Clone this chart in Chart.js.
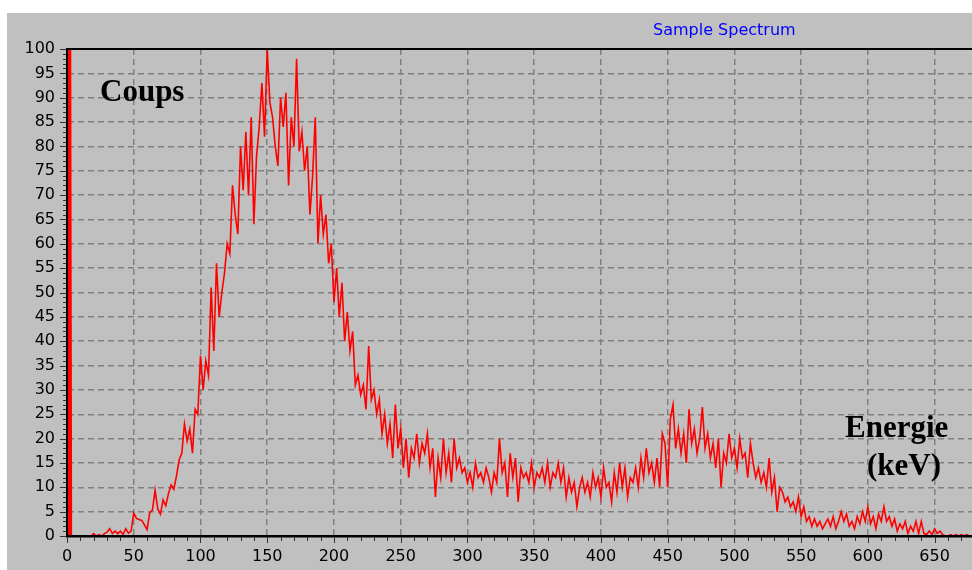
<!DOCTYPE html>
<html>
<head>
<meta charset="utf-8">
<script src="https://cdn.jsdelivr.net/npm/chart.js@4/dist/chart.umd.min.js"></script>
<style>
  html, body { margin: 0; padding: 0; background: #fff; }
  #wrap { position: absolute; left: 7px; top: 13px; width: 965px; height: 557px; background: #c0c0c0; }
</style>
</head>
<body>
<div id="wrap"><canvas id="spectrum"></canvas></div>
<script>
// channel width of the spectrum (keV per bin)
const BIN_KEV = 2;

// counts per 2 keV bin, starting at 0 keV (first bin overflows the scale)
const counts = [
  300, 0, 0, 0, 0, 0, 0, 0, 0, 0,
  0.5, 0, 0.3, 0, 0.5, 0.8, 1.5, 0.5, 1, 0.5,
  1, 0.3, 1.5, 0.6, 1, 4.7, 3.6, 3.4, 3.2, 2.3,
  1.3, 4.8, 5.3, 9.4, 5.5, 4.5, 7.4, 6.2, 8.7, 10.5,
  9.6, 12.3, 15.6, 17, 23, 19.5, 22, 17, 26, 25,
  37, 30, 36, 33, 51, 38, 56, 45, 50, 54,
  60, 58, 72, 66, 62, 80, 71, 83, 70, 86,
  64, 78, 84, 93, 82, 100, 89, 86, 80, 76,
  90, 84, 91, 72, 86, 80, 98, 79, 83, 75,
  80, 66, 74, 86, 60, 70, 62, 66, 56, 60,
  48, 55, 45, 52, 40, 46, 38, 42, 31, 33,
  29, 31, 26, 39, 28, 30, 25, 28, 21, 25,
  19, 23, 16, 27, 18, 22, 14, 20, 12, 18,
  16, 21, 15, 19, 17, 21, 14, 18, 8, 16,
  12, 20, 13, 17, 11, 20, 14, 16, 13, 14,
  11, 13, 10, 15, 12, 13, 11, 14, 12, 9,
  13, 11, 20, 13, 15, 8, 17, 12, 16, 7,
  14, 12, 13, 11, 15, 10, 13, 12, 14, 11,
  15, 10, 13, 12, 15, 11, 14, 8, 12, 9,
  11, 6, 10, 12, 9, 11, 8, 13, 10, 12,
  8, 14, 10, 11, 7, 13, 9, 15, 10, 14,
  8, 12, 11, 14, 10, 16, 12, 18, 13, 15,
  11, 16, 10, 21, 19, 10, 24, 27, 18, 22,
  17, 21, 15, 26, 19, 22, 17, 20, 26.5, 18,
  21, 16, 19, 14, 20, 10, 17, 15, 21, 16,
  18, 14, 20, 16, 17, 12, 19, 15, 12, 14,
  11, 13, 10, 16, 9, 12, 5, 10, 9, 7,
  8, 6, 7, 5, 8, 4, 6, 3, 4, 2,
  3.5, 2, 3, 1.5, 2.5, 3.5, 2, 4, 1.5, 3,
  5, 3, 4.5, 2, 3, 1.5, 4, 2.5, 5, 3,
  6, 2.5, 4, 1.5, 4.5, 3, 6, 3, 4, 2,
  3.5, 1, 2.5, 1.5, 3, 0.5, 2, 1, 3, 0.5,
  3, 0.5, 0.3, 1, 0.3, 1.5, 0.5, 1, 0.3, 0,
  0, 0.3, 0, 0.3, 0, 0.3, 0, 0.3, 0, 0
];

const energies = counts.map((c, i) => i * BIN_KEV);

const xMax = 678;
const yMax = 100;

const titleText = "Sample Spectrum";
const yLabel = "Coups";
const xLabel = ["Energie", "(keV)"];

// minor tick marks, top frame line and text labels
const decorations = {
  id: "decorations",
  afterDraw(chart) {
    const { ctx, chartArea, scales } = chart;
    const x = scales.x, y = scales.y;
    ctx.save();
    ctx.strokeStyle = "#333";
    ctx.lineWidth = 1;
    ctx.beginPath();
    for (let v = 0; v <= yMax; v++) {
      const py = Math.round(y.getPixelForValue(v)) + 0.5;
      const len = v % 5 === 0 ? 6 : 3;
      ctx.moveTo(chartArea.left - 1 - len, py);
      ctx.lineTo(chartArea.left - 1, py);
    }
    for (let v = 0; v <= xMax; v += 10) {
      const px = Math.round(x.getPixelForValue(v)) + 0.5;
      const len = v % 50 === 0 ? 6 : 4;
      ctx.moveTo(px, chartArea.bottom + 1);
      ctx.lineTo(px, chartArea.bottom + 1 + len);
    }
    ctx.stroke();

    ctx.strokeStyle = "#000";
    ctx.lineWidth = 2;
    ctx.beginPath();
    ctx.moveTo(chartArea.left, chartArea.top);
    ctx.lineTo(chartArea.right, chartArea.top);
    ctx.stroke();

    ctx.fillStyle = "#0000ff";
    ctx.font = '16px "DejaVu Sans"';
    ctx.textBaseline = "alphabetic";
    ctx.fillText(titleText, 646, 22);

    ctx.fillStyle = "#000";
    ctx.font = 'bold 31px "Liberation Serif"';
    ctx.fillText(yLabel, 93, 88);
    ctx.fillText(xLabel[0], 838, 424);
    ctx.fillText(xLabel[1], 860, 462);
    ctx.restore();
  }
};

new Chart(document.getElementById("spectrum"), {
  type: "line",
  data: {
    datasets: [{
      data: counts.map((c, i) => ({ x: energies[i], y: c })),
      borderColor: "#ff0000",
      borderWidth: 1.6,
      pointRadius: 0,
      fill: false,
      clip: 0,
      segment: {
        borderWidth: ctx => ctx.p0DataIndex === 0 ? 5 : undefined
      }
    }]
  },
  options: {
    responsive: true,
    maintainAspectRatio: false,
    animation: false,
    layout: { padding: { top: 36, right: 0, left: 0, bottom: 0 } },
    plugins: {
      legend: { display: false },
      tooltip: { enabled: false },
      title: { display: false }
    },
    scales: {
      x: {
        type: "linear",
        min: 0,
        max: xMax,
        afterFit: s => { s.height = 34; },
        ticks: {
          stepSize: 50,
          includeBounds: false,
          padding: 11,
          color: "#000",
          font: { family: "DejaVu Sans", size: 16 }
        },
        grid: { color: "#808080", lineWidth: 1.5, drawTicks: false },
        border: { color: "#000", width: 2.5, dash: [6, 4], z: 1 }
      },
      y: {
        min: 0,
        max: yMax,
        afterFit: s => { s.width = 60; },
        ticks: {
          stepSize: 5,
          padding: 12,
          color: "#000",
          font: { family: "DejaVu Sans", size: 16 }
        },
        grid: { color: "#808080", lineWidth: 1.5, drawTicks: false },
        border: { color: "#000", width: 2, dash: [6, 4], z: 1 }
      }
    }
  },
  plugins: [decorations]
});
</script>
</body>
</html>
